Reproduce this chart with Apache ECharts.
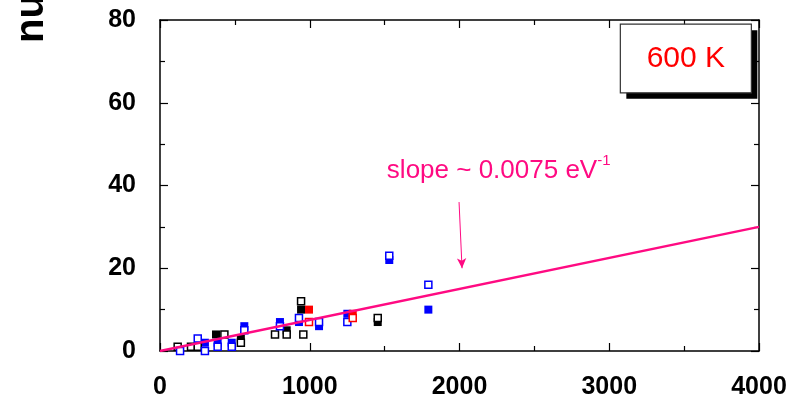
<!DOCTYPE html>
<html>
<head>
<meta charset="utf-8">
<script src="https://cdn.jsdelivr.net/npm/echarts@6/dist/echarts.min.js"></script>
<style>
  html, body { margin: 0; padding: 0; background: #fff; }
  #chart { width: 797px; height: 400px; }
</style>
</head>
<body>
<div id="chart"></div>
<script>
// Energy (x) vs count (y), three sample groups, filled and open symbols
const blackFilled = [[374, 4], [540, 3], [846, 5], [942, 10], [1454, 7]];
const blackOpen = [[118, 1], [207, 1], [252, 1], [430, 4], [540, 2], [768, 4], [846, 4], [942, 12], [957, 4], [1454, 8]];
const blueFilled = [[300, 2], [385, 2], [479, 2], [563, 6], [801, 7], [928, 7], [1062, 6], [1251, 9], [1531, 22], [1792, 10]];
const blueOpen = [[134, 0], [252, 3], [300, 0], [385, 1], [479, 1], [563, 5], [801, 6], [928, 8], [1062, 7], [1251, 7], [1531, 23], [1792, 16]];
const redFilled = [[995, 10], [1287, 9]];
const redOpen = [[995, 7], [1287, 8]];

// Linear fit through the origin
const slope = 0.0075;
const fitRange = [0, 4000];
const fitLine = fitRange.map(x => [x, x * slope]);

const xTicks = { min: 0, max: 4000, interval: 1000 };
const yTicks = { min: 0, max: 80, interval: 20 };
const tempLabel = '600 K';
const yName = 'number of defects';

const pink = '#ff0a82';
const labelFont = { fontFamily: 'Liberation Sans, Arial, sans-serif', fontWeight: 'bold', fontSize: 25, color: '#000' };

function mainAxis(t, extra) {
  return Object.assign({
    min: t.min, max: t.max, interval: t.interval,
    axisLine: { show: true, onZero: false, lineStyle: { color: '#000', width: 1.5 } },
    axisTick: { show: true, inside: true, length: 8, lineStyle: { color: '#000', width: 1.2 } },
    minorTick: { show: true, splitNumber: 2, length: 5, lineStyle: { color: '#000', width: 1.2 } },
    splitLine: { show: false },
    axisLabel: Object.assign({ margin: 24, formatter: v => String(v) }, labelFont)
  }, extra);
}
function mirrorAxis(t, extra) {
  const a = mainAxis(t, extra);
  a.axisLabel = { show: false };
  return a;
}

function squares(data, color, open) {
  return {
    type: 'scatter',
    data: data,
    symbol: 'rect',
    symbolSize: open ? 7 : 8,
    z: open ? 4 : 3,
    itemStyle: open
      ? { color: '#fff', borderColor: color, borderWidth: 1.5, opacity: 1 }
      : { color: color, opacity: 1 },
    emphasis: { disabled: true },
    silent: true
  };
}

const chart = echarts.init(document.getElementById('chart'), null, { renderer: 'canvas' });
chart.setOption({
  animation: false,
  backgroundColor: '#fff',
  grid: { left: 160, right: 38, top: 20, bottom: 48 },
  xAxis: [
    mainAxis(xTicks, { type: 'value', position: 'bottom' }),
    mirrorAxis(xTicks, { type: 'value', position: 'top' })
  ],
  yAxis: [
    mainAxis(yTicks, { type: 'value', position: 'left' }),
    mirrorAxis(yTicks, { type: 'value', position: 'right' })
  ],
  series: [
    {
      type: 'line',
      data: fitLine,
      symbol: 'none',
      z: 5,
      lineStyle: { color: pink, width: 2.5 },
      silent: true,
      markLine: {
        silent: true,
        symbol: ['none', 'arrow'],
        symbolSize: [7, 10],
        lineStyle: { color: pink, width: 1, type: 'solid' },
        label: { show: false },
        data: [[{ coord: [1997, 36] }, { coord: [2017, 20] }]]
      }
    },
    squares(blackFilled, '#000', false),
    squares(blueFilled, '#0000ff', false),
    squares(redFilled, '#ff0000', false),
    squares(blackOpen, '#000', true),
    squares(blueOpen, '#0000ff', true),
    squares(redOpen, '#ff0000', true)
  ]
});

// Annotations placed from data coordinates
const annot = chart.convertToPixel({ xAxisIndex: 0, yAxisIndex: 0 }, [1515, 40.5]);
const boxTL = chart.convertToPixel({ xAxisIndex: 0, yAxisIndex: 0 }, [3074, 79]);
const boxBR = chart.convertToPixel({ xAxisIndex: 0, yAxisIndex: 0 }, [3949, 62.4]);
const bw = boxBR[0] - boxTL[0], bh = boxBR[1] - boxTL[1];

chart.setOption({
  graphic: [
    {
      type: 'text', x: 52, y: 43, rotation: Math.PI / 2,
      style: {
        text: yName, fill: '#000',
        font: 'bold 40px "Liberation Sans", Arial, sans-serif',
        textAlign: 'left', textVerticalAlign: 'bottom'
      }
    },
    {
      type: 'rect', x: boxTL[0] + 6, y: boxTL[1] + 6, z: 10,
      shape: { width: bw, height: bh },
      style: { fill: '#000' }
    },
    {
      type: 'rect', x: boxTL[0], y: boxTL[1], z: 11,
      shape: { width: bw, height: bh },
      style: { fill: '#fff', stroke: '#333', lineWidth: 1.2 }
    },
    {
      type: 'text', x: boxTL[0] + bw / 2, y: boxTL[1] + bh / 2, z: 12,
      style: {
        text: tempLabel, fill: '#ff0000',
        font: '30px "Liberation Sans", Arial, sans-serif',
        textAlign: 'center', textVerticalAlign: 'middle'
      }
    },
    {
      type: 'text', x: annot[0], y: annot[1], z: 12,
      style: {
        text: '{m|slope ~ 0.0075 eV}{s|-1}',
        fill: pink,
        textAlign: 'left', textVerticalAlign: 'bottom',
        rich: {
          m: { fontFamily: 'Liberation Sans, Arial, sans-serif', fontSize: 26, fill: pink, lineHeight: 30, verticalAlign: 'bottom' },
          s: { fontFamily: 'Liberation Sans, Arial, sans-serif', fontSize: 15, fill: pink, lineHeight: 30, verticalAlign: 'top' }
        }
      }
    }
  ]
});
</script>
</body>
</html>
